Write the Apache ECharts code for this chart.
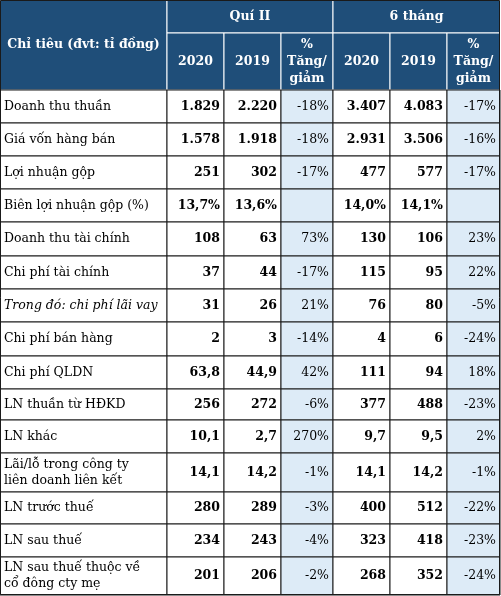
<!DOCTYPE html><html><head><meta charset="utf-8"><script src="https://cdn.jsdelivr.net/npm/echarts@6/dist/echarts.min.js"></script>
<style>html,body{margin:0;padding:0;background:#fff}#c{width:501px;height:596px}</style></head><body><div id="c"></div><script>
var rowLabels=["Doanh thu thuần","Giá vốn hàng bán","Lợi nhuận gộp","Biên lợi nhuận gộp (%)","Doanh thu tài chính","Chi phí tài chính","Trong đó: chi phí lãi vay","Chi phí bán hàng","Chi phí QLDN","LN thuần từ HĐKD","LN khác","Lãi/lỗ trong công ty\nliên doanh liên kết","LN trước thuế","LN sau thuế","LN sau thuế thuộc về\ncổ đông cty mẹ"];
var q2020=["1.829","1.578","251","13,7%","108","37","31","2","63,8","256","10,1","14,1","280","234","201"];
var q2019=["2.220","1.918","302","13,6%","63","44","26","3","44,9","272","2,7","14,2","289","243","206"];
var qPct=["-18%","-18%","-17%","","73%","-17%","21%","-14%","42%","-6%","270%","-1%","-3%","-4%","-2%"];
var h2020=["3.407","2.931","477","14,0%","130","115","76","4","111","377","9,7","14,1","400","323","268"];
var h2019=["4.083","3.506","577","14,1%","106","95","80","6","94","488","9,5","14,2","512","418","352"];
var hPct=["-17%","-16%","-17%","","23%","22%","-5%","-24%","18%","-23%","2%","-1%","-22%","-23%","-24%"];
var groupHeaders=["Quí II","6 tháng"];
var colHeaders=["Chỉ tiêu (đvt: tỉ đồng)","2020","2019","%\nTăng/\ngiảm","2020","2019","%\nTăng/\ngiảm"];
// layout
var colX=[0,167,224,281,333,390,447,500];
var rowY=[90,123,156,189,222,256,289,322,356,389,420,453,492,524,557,595];
var cols=[rowLabels,q2020,q2019,qPct,h2020,h2019,hPct];
var FONT='"DejaVu Serif", serif';
var BLUE='#1f4e79';
var cells=[];
// header cells: [c0,c1,y0,y1,text,type]
cells.push([0,1,0,90,colHeaders[0],'h']);
cells.push([1,4,0,33,groupHeaders[0],'h']);
cells.push([4,7,0,33,groupHeaders[1],'h']);
for(var c=1;c<7;c++)cells.push([c,c+1,33,90,colHeaders[c],'h']);
for(var r=0;r<rowLabels.length;r++)for(var c=0;c<7;c++)cells.push([c,c+1,rowY[r],rowY[r+1],cols[c][r],'b'+c,r]);
function renderItem(params,api){
  var c0=api.value(0),c1=api.value(1),y0=api.value(2),y1=api.value(3);
  var d=cells[params.dataIndex];var txt=d[4],t=d[5];
  var p0=api.coord([colX[c0],y0]),p1=api.coord([colX[c1],y1]);
  var x=p0[0],y=p0[1],w=p1[0]-p0[0],h=p1[1]-p0[1];
  var head=t==='h';var pct=(t==='b3'||t==='b6');
  var fill=head?BLUE:(pct?'#ddebf7':'#fff');
  var stroke=head?'#fff':'#1a1a1a';
  var align='right',tx=x+w-4,bold='bold',style='normal';
  if(head){align='center';tx=x+w/2;}
  else if(t==='b0'){align='left';tx=x+4;bold='normal';if(d[6]===6)style='italic';}
  else if(pct){bold='normal';}
  return {type:'group',children:[
    {type:'rect',shape:{x:x,y:y,width:w,height:h},style:{fill:fill,stroke:stroke,lineWidth:1}},
    {type:'text',style:{x:tx,y:y+h/2,text:txt,align:align,verticalAlign:'middle',fill:head?'#fff':'#000',
      font:style+' '+bold+' '+(head?'12.5px ':'12.5px ')+FONT,lineHeight:head?17:16}}
  ]};
}
var chart=echarts.init(document.getElementById('c'));
chart.setOption({animation:false,
 grid:{left:0,right:0,top:0,bottom:0},
 xAxis:{type:'value',min:0,max:501,show:false},
 yAxis:{type:'value',min:0,max:596,inverse:true,show:false},
 series:[{type:'custom',renderItem:renderItem,data:cells.map(function(d){return [d[0],d[1],d[2],d[3]];})},
  {type:'custom',silent:true,renderItem:function(p,api){var a=api.coord([0,0]),b=api.coord([500,595]);
   return {type:'rect',shape:{x:a[0]+0.5,y:a[1]+0.5,width:b[0]-a[0]-1,height:b[1]-a[1]-1},style:{fill:null,stroke:'#1a1a1a',lineWidth:1}};},data:[[0]]}]
});
</script></body></html>
